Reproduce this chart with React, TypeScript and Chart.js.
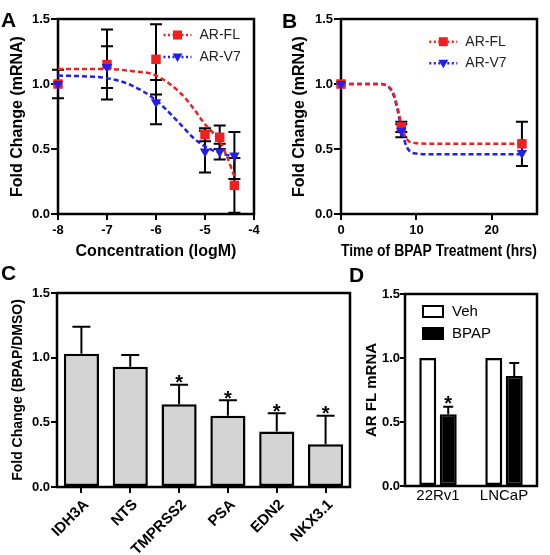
import React, { useEffect, useRef } from 'react';
import { Chart, registerables } from 'chart.js';
Chart.register(...registerables);

const FONT = "'Liberation Sans', Arial, Helvetica, sans-serif";
Chart.defaults.font.family = FONT;
Chart.defaults.color = '#000';

// ---------- Panel A: concentration response ----------
const concLogM = [-8, -7, -6, -5, -4.7, -4.4];
const arFlConc = [1.0, 1.15, 1.19, 0.61, 0.59, 0.22];
const arFlConcErr = [0.11, 0.27, 0.27, 0.05, 0.09, 0.21];
const arV7Conc = [1.0, 1.13, 0.86, 0.48, 0.48, 0.45];
const arV7ConcErr = [0, 0.16, 0.17, 0.16, 0.06, 0.18];
const fitFlConcX = [-8, -7, -6.5, -6, -5.5, -5.25, -5, -4.85, -4.7, -4.55, -4.4];
const fitFlConcY = [1.115, 1.115, 1.1, 1.065, 0.93, 0.82, 0.69, 0.63, 0.56, 0.44, 0.29];
const fitV7ConcX = [-8, -7.5, -7, -6.5, -6, -5.5, -5.25, -5, -4.7, -4.4];
const fitV7ConcY = [1.065, 1.06, 1.045, 0.99, 0.875, 0.69, 0.59, 0.52, 0.47, 0.44];

// ---------- Panel B: time course ----------
const timeHrs = [0, 8, 24];
const arFlTime = [1.0, 0.67, 0.54];
const arFlTimeErr = [0, 0.04, 0.17];
const arV7Time = [1.0, 0.64, 0.47];
const arV7TimeErr = [0, 0.05, 0];
const fitFlTimeX = [0, 5, 6, 6.5, 7, 7.5, 8, 8.5, 9, 10, 12, 24];
const fitFlTimeY = [1, 1, 0.99, 0.97, 0.92, 0.82, 0.69, 0.6, 0.56, 0.545, 0.54, 0.54];
const fitV7TimeX = [0, 5, 6, 6.5, 7, 7.5, 8, 8.5, 9, 9.5, 10, 12, 24];
const fitV7TimeY = [1, 1, 0.99, 0.965, 0.91, 0.8, 0.66, 0.55, 0.49, 0.47, 0.465, 0.46, 0.46];

// ---------- Panel C: target genes ----------
const genes = ['IDH3A', 'NTS', 'TMPRSS2', 'PSA', 'EDN2', 'NKX3.1'];
const geneFold = [1.03, 0.93, 0.64, 0.55, 0.43, 0.33];
const geneErr = [0.21, 0.09, 0.15, 0.12, 0.14, 0.22];
const geneSig = [false, false, true, true, true, true];

// ---------- Panel D: cell lines ----------
const cellLines = ['22Rv1', 'LNCaP'];
const vehValues = [1.0, 1.0];
const bpapValues = [0.56, 0.86];
const bpapErr = [0.06, 0.1];
const bpapSig = [true, false];

const yTicks = [0, 0.5, 1.0, 1.5];

const RED = '#f21f1f';
const BLUE = '#1f1ff0';

const xy = (xs: number[], ys: number[]) => xs.map((x, i) => ({ x, y: ys[i] }));

const framePlugin = {
  id: 'frame',
  beforeDatasetsDraw(chart: any) {
    const { ctx, chartArea: a } = chart;
    ctx.save();
    ctx.strokeStyle = '#000';
    ctx.lineWidth = 2.5;
    ctx.strokeRect(a.left, a.top, a.right - a.left, a.bottom - a.top);
    ctx.restore();
  },
};

function scatterErrorPlugin(series: { xs: number[]; ys: number[]; errs: number[] }[], cap: number) {
  return {
    id: 'scatterErrors',
    beforeDatasetsDraw(chart: any) {
      const { ctx, scales } = chart;
      const x = scales.x, y = scales.y;
      ctx.save();
      ctx.strokeStyle = '#000';
      ctx.lineWidth = 2;
      series.forEach((s) => {
        s.xs.forEach((xv, i) => {
          const e = s.errs[i];
          if (!e) return;
          const px = x.getPixelForValue(xv);
          const t = y.getPixelForValue(s.ys[i] + e);
          const b = y.getPixelForValue(Math.max(0, s.ys[i] - e));
          ctx.beginPath();
          ctx.moveTo(px, t); ctx.lineTo(px, b);
          ctx.moveTo(px - cap, t); ctx.lineTo(px + cap, t);
          ctx.moveTo(px - cap, b); ctx.lineTo(px + cap, b);
          ctx.stroke();
        });
      });
      ctx.restore();
    },
  };
}

function lineLegendPlugin(
  items: { label: string; color: string; style: string }[],
  ox: number, oy: number, dy: number
) {
  return {
    id: 'lineLegend',
    afterDatasetsDraw(chart: any) {
      const { ctx, chartArea: a } = chart;
      ctx.save();
      items.forEach((it, i) => {
        const cx = a.left + ox;
        const cy = a.top + oy + i * dy;
        ctx.strokeStyle = it.color;
        ctx.lineWidth = 2.5;
        ctx.setLineDash([2, 2.5]);
        ctx.beginPath();
        ctx.moveTo(cx - 14, cy);
        ctx.lineTo(cx + 14, cy);
        ctx.stroke();
        ctx.setLineDash([]);
        ctx.fillStyle = it.color;
        ctx.beginPath();
        if (it.style === 'rect') {
          ctx.rect(cx - 4.5, cy - 4.5, 9, 9);
        } else {
          ctx.moveTo(cx - 5, cy - 3.5);
          ctx.lineTo(cx + 5, cy - 3.5);
          ctx.lineTo(cx, cy + 5);
          ctx.closePath();
        }
        ctx.fill();
        ctx.fillStyle = '#222';
        ctx.font = `14px ${FONT}`;
        ctx.textBaseline = 'middle';
        ctx.textAlign = 'left';
        ctx.fillText(it.label, cx + 22, cy);
      });
      ctx.restore();
    },
  };
}

function yAxis(title: string, titleSize: number, titlePadTop: number, width: number, tickLen: number, tickPad: number) {
  return {
    min: 0,
    max: 1.5,
    afterBuildTicks: (s: any) => { s.ticks = yTicks.map((v) => ({ value: v })); },
    ticks: {
      font: { family: FONT, size: 13, weight: 'bold' },
      color: '#000',
      padding: tickPad,
      callback: (v: any) => Number(v).toFixed(1),
    },
    grid: { drawOnChartArea: false, drawTicks: true, tickLength: tickLen, color: '#000', lineWidth: 2 },
    border: { display: false },
    title: {
      display: true,
      text: title,
      color: '#000',
      font: { family: FONT, size: titleSize, weight: 'bold' },
      padding: { top: titlePadTop, bottom: 0 },
    },
    afterFit: (s: any) => { s.width = width; },
  };
}

function linearX(min: number, max: number, step: number, title: string, height: number) {
  return {
    type: 'linear',
    min,
    max,
    ticks: {
      stepSize: step,
      includeBounds: false,
      font: { family: FONT, size: 13, weight: 'bold' },
      color: '#000',
      padding: 3,
    },
    grid: { drawOnChartArea: false, drawTicks: true, tickLength: 6, color: '#000', lineWidth: 2 },
    border: { display: false },
    title: {
      display: true,
      text: title,
      color: '#000',
      font: { family: FONT, size: 16, weight: 'bold' },
      padding: { top: 0, bottom: 1 },
    },
    afterFit: (s: any) => { s.height = height; },
  };
}

function scatterDatasets(
  xs: number[], fl: number[], v7: number[],
  fitFlX: number[], fitFlY: number[], fitV7X: number[], fitV7Y: number[]
) {
  return [
    {
      label: 'AR-V7', data: xy(xs, v7), showLine: false, pointStyle: 'triangle', pointRotation: 180,
      pointRadius: 6, pointBackgroundColor: BLUE, pointBorderColor: BLUE, pointBorderWidth: 0, clip: false,
    },
    {
      label: 'AR-FL', data: xy(xs, fl), showLine: false, pointStyle: 'rect',
      pointRadius: 6.7, pointBackgroundColor: RED, pointBorderColor: RED, pointBorderWidth: 0, clip: false,
    },
    {
      label: 'AR-FL fit', data: xy(fitFlX, fitFlY), showLine: true, pointRadius: 0, borderColor: RED,
      borderWidth: 2.5, borderDash: [5, 3], cubicInterpolationMode: 'monotone', clip: false,
    },
    {
      label: 'AR-V7 fit', data: xy(fitV7X, fitV7Y), showLine: true, pointRadius: 0, borderColor: BLUE,
      borderWidth: 2.5, borderDash: [5, 3], cubicInterpolationMode: 'monotone', clip: false,
    },
  ];
}

const legendItems = [
  { label: 'AR-FL', color: RED, style: 'rect' },
  { label: 'AR-V7', color: BLUE, style: 'triangle' },
];

function configA() {
  return {
    type: 'scatter',
    data: { datasets: scatterDatasets(concLogM, arFlConc, arV7Conc, fitFlConcX, fitFlConcY, fitV7ConcX, fitV7ConcY) },
    options: {
      responsive: false,
      animation: false,
      layout: { padding: { top: 19, right: 21, left: 0, bottom: 0 } },
      plugins: { legend: { display: false }, tooltip: { enabled: false } },
      scales: {
        x: linearX(-8, -4, 1, 'Concentration (logM)', 48),
        y: yAxis('Fold Change (mRNA)', 16, 8, 58, 7, 1),
      },
    },
    plugins: [
      framePlugin,
      scatterErrorPlugin([
        { xs: concLogM, ys: arFlConc, errs: arFlConcErr },
        { xs: concLogM, ys: arV7Conc, errs: arV7ConcErr },
      ], 6),
      lineLegendPlugin(legendItems, 119.5, 16, 22),
    ],
  };
}

function configB() {
  return {
    type: 'scatter',
    data: { datasets: scatterDatasets(timeHrs, arFlTime, arV7Time, fitFlTimeX, fitFlTimeY, fitV7TimeX, fitV7TimeY) },
    options: {
      responsive: false,
      animation: false,
      layout: { padding: { top: 19, right: 13, left: 0, bottom: 0 } },
      plugins: { legend: { display: false }, tooltip: { enabled: false } },
      scales: {
        x: linearX(0, 26, 10, 'Time of BPAP Treatment (hrs)', 48),
        y: yAxis('Fold Change (mRNA)', 16, 15.4, 66, 7, 1),
      },
    },
    plugins: [
      framePlugin,
      scatterErrorPlugin([
        { xs: timeHrs, ys: arFlTime, errs: arFlTimeErr },
        { xs: timeHrs, ys: arV7Time, errs: arV7TimeErr },
      ], 6),
      lineLegendPlugin(legendItems, 102.3, 22.7, 21.6),
    ],
  };
}

function barErrorPlugin(datasetIndex: number, vals: number[], errs: number[], sig: boolean[], cap: number, starGap: number) {
  return {
    id: 'barErrors',
    afterDatasetsDraw(chart: any) {
      const { ctx, scales } = chart;
      const meta = chart.getDatasetMeta(datasetIndex);
      ctx.save();
      ctx.strokeStyle = '#000';
      ctx.lineWidth = 2;
      vals.forEach((v, i) => {
        const el = meta.data[i];
        if (!el) return;
        const px = el.x;
        const top = scales.y.getPixelForValue(v + errs[i]);
        const base = scales.y.getPixelForValue(v);
        if (errs[i]) {
          ctx.beginPath();
          ctx.moveTo(px, base); ctx.lineTo(px, top);
          ctx.moveTo(px - cap, top); ctx.lineTo(px + cap, top);
          ctx.stroke();
        }
        if (sig[i]) {
          ctx.fillStyle = '#000';
          ctx.font = `bold 20px ${FONT}`;
          ctx.textAlign = 'center';
          ctx.textBaseline = 'alphabetic';
          ctx.fillText('*', px, top + starGap);
        }
      });
      ctx.restore();
    },
  };
}

function configC() {
  return {
    type: 'bar',
    data: {
      labels: genes,
      datasets: [{
        label: 'Fold Change',
        data: geneFold,
        backgroundColor: '#d4d4d4',
        borderColor: '#000',
        borderWidth: 2.5,
        borderSkipped: false,
        barPercentage: 0.72,
        categoryPercentage: 1,
      }],
    },
    options: {
      responsive: false,
      animation: false,
      layout: { padding: { top: 31, right: 10, left: 0, bottom: 0 } },
      plugins: { legend: { display: false }, tooltip: { enabled: false } },
      scales: {
        x: {
          ticks: {
            autoSkip: false,
            minRotation: 45,
            maxRotation: 45,
            font: { family: FONT, size: 15, weight: 'bold' },
            color: '#000',
            padding: 3,
            labelOffset: 5,
          },
          grid: { drawOnChartArea: false, drawTicks: true, offset: false, tickLength: 6, color: '#000', lineWidth: 2 },
          border: { display: false },
          afterFit: (s: any) => { s.height = 68; },
        },
        y: yAxis('Fold Change (BPAP/DMSO)', 14, 9.6, 57, 6, 1),
      },
    },
    plugins: [framePlugin, barErrorPlugin(0, geneFold, geneErr, geneSig, 9, 4.5)],
  };
}

const boxLegendPlugin = {
  id: 'boxLegend',
  afterDatasetsDraw(chart: any) {
    const { ctx, chartArea: a } = chart;
    ctx.save();
    chart.data.datasets.forEach((ds: any, i: number) => {
      const x = a.left + 18;
      const y = a.top + 12 + i * 22;
      ctx.fillStyle = ds.backgroundColor;
      ctx.fillRect(x, y, 20, 11);
      ctx.strokeStyle = '#000';
      ctx.lineWidth = 2;
      ctx.strokeRect(x, y, 20, 11);
      ctx.fillStyle = '#000';
      ctx.font = `15px ${FONT}`;
      ctx.textAlign = 'left';
      ctx.textBaseline = 'middle';
      ctx.fillText(ds.label, a.left + 47, y + 6);
    });
    ctx.restore();
  },
};

function configD() {
  return {
    type: 'bar',
    data: {
      labels: cellLines,
      datasets: [
        {
          label: 'Veh', data: vehValues, backgroundColor: '#ffffff', borderColor: '#000',
          borderWidth: 2.5, borderSkipped: false, barPercentage: 0.83, categoryPercentage: 0.62,
        },
        {
          label: 'BPAP', data: bpapValues, backgroundColor: '#000000', borderColor: '#000',
          borderWidth: 2.5, borderSkipped: false, barPercentage: 0.83, categoryPercentage: 0.62,
        },
      ],
    },
    options: {
      responsive: false,
      animation: false,
      layout: { padding: { top: 32, right: 13, left: 0, bottom: 0 } },
      plugins: { legend: { display: false }, tooltip: { enabled: false } },
      scales: {
        x: {
          ticks: { font: { family: FONT, size: 15 }, color: '#000', padding: 1 },
          grid: { display: false, drawTicks: false },
          border: { display: false },
          afterFit: (s: any) => { s.height = 69; },
        },
        y: yAxis('AR FL mRNA', 15, 3, 45, 5, 0),
      },
    },
    plugins: [framePlugin, boxLegendPlugin, barErrorPlugin(1, bpapValues, bpapErr, bpapSig, 5, 3)],
  };
}

function ChartCanvas({ left, top, width, height, make }: any) {
  const ref = useRef<HTMLCanvasElement | null>(null);
  useEffect(() => {
    if (!ref.current) return;
    const chart = new Chart(ref.current, make());
    return () => chart.destroy();
  }, []);
  return (
    <canvas
      ref={ref}
      width={width}
      height={height}
      style={{ position: 'absolute', left, top, width, height, display: 'block' }}
    />
  );
}

const letterStyle = (left: number, top: number): React.CSSProperties => ({
  position: 'absolute',
  left,
  top,
  font: `bold 21px ${FONT}`,
  lineHeight: '21px',
  color: '#000',
});

export default function App() {
  return (
    <div style={{ position: 'absolute', left: 0, top: 0, width: 550, height: 555, background: '#fff', overflow: 'hidden' }}>
      <ChartCanvas left={0} top={0} width={275} height={262} make={configA} />
      <ChartCanvas left={275} top={0} width={275} height={262} make={configB} />
      <ChartCanvas left={0} top={262} width={360} height={293} make={configC} />
      <ChartCanvas left={360} top={262} width={190} height={293} make={configD} />
      <div style={letterStyle(1, 9)}>A</div>
      <div style={letterStyle(282, 10)}>B</div>
      <div style={letterStyle(1, 262)}>C</div>
      <div style={letterStyle(349, 264)}>D</div>
    </div>
  );
}
